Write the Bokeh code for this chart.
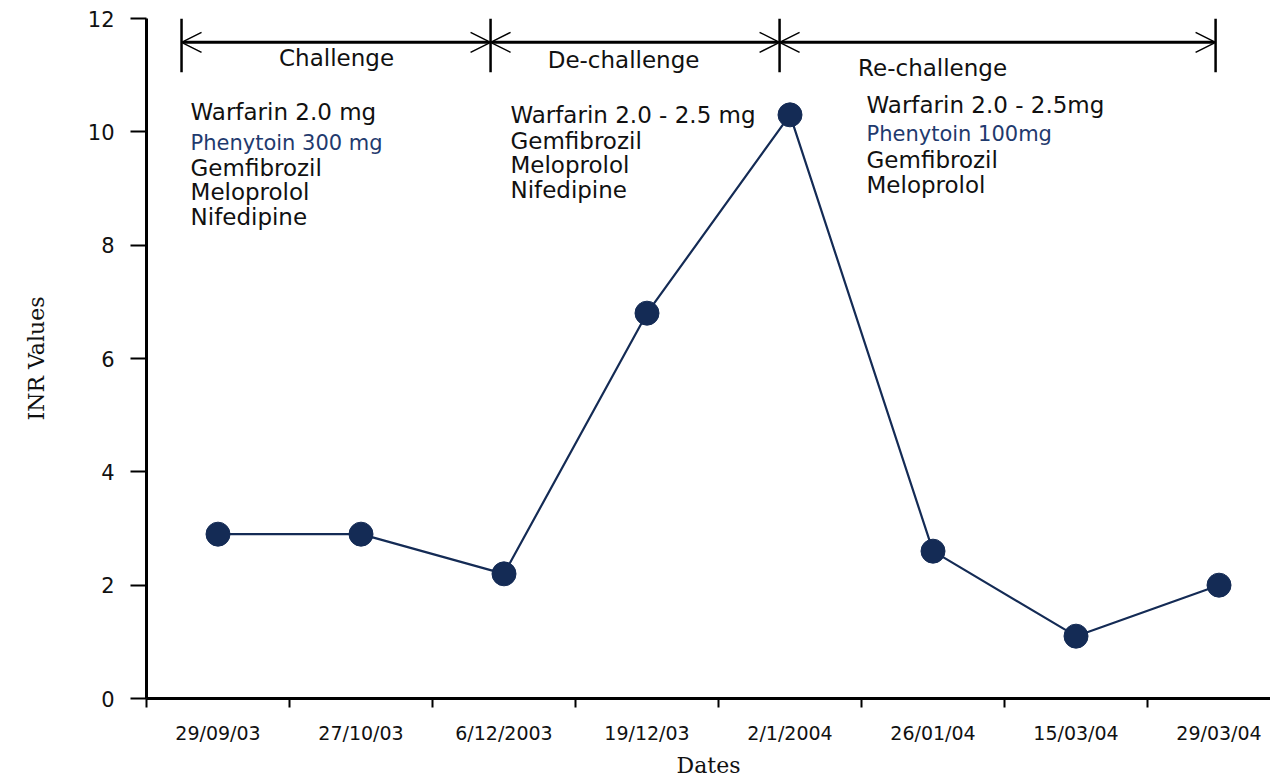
from bokeh.plotting import figure
from bokeh.models import FixedTicker, Arrow, OpenHead, Range1d, ColumnDataSource
from bokeh.core.properties import value
from bokeh.embed import file_html
from bokeh.resources import INLINE

# ---------------- data ----------------
dates = ["29/09/03", "27/10/03", "6/12/2003", "19/12/03",
         "2/1/2004", "26/01/04", "15/03/04", "29/03/04"]
inr = [2.9, 2.9, 2.2, 6.8, 10.3, 2.6, 1.1, 2.0]
y_ticks = [0, 2, 4, 6, 8, 10, 12]

phases = ["Challenge", "De-challenge", "Re-challenge"]
challenge_drugs = ["Warfarin 2.0 mg", "Phenytoin 300 mg", "Gemfibrozil", "Meloprolol", "Nifedipine"]
dechallenge_drugs = ["Warfarin 2.0 - 2.5 mg", "Gemfibrozil", "Meloprolol", "Nifedipine"]
rechallenge_drugs = ["Warfarin 2.0 - 2.5mg", "Phenytoin 100mg", "Gemfibrozil", "Meloprolol"]

# ---------------- layout / style ----------------
NAVY = "#142b55"
BLUE_TXT = "#1f3a6e"
SANS = "DejaVu Sans"
SERIF = "DejaVu Serif"

phase_bounds = [-0.255, 1.906, 3.927, 6.976]   # positions of the vertical bars (x units)
bar_top, bar_bottom, arrow_y = 12.0, 11.05, 11.58
header_pos = [(0.829, 11.31), (2.836, 11.26), (4.997, 11.12)]
blocks = [
    (challenge_drugs, -0.192, [10.35, 9.80, 9.36, 8.94, 8.50]),
    (dechallenge_drugs, 2.045, [10.29, 9.84, 9.41, 8.97]),
    (rechallenge_drugs, 4.535, [10.47, 9.96, 9.50, 9.06]),
]

x = list(range(len(dates)))

p = figure(width=1270, height=780, output_backend="svg", toolbar_location=None,
           x_range=Range1d(-0.5, 7.36), y_range=Range1d(0, 12),
           min_border_left=146, min_border_right=0, min_border_top=18, min_border_bottom=80)
p.background_fill_color = "white"
p.border_fill_color = "white"
p.outline_line_color = None
p.grid.visible = False

# x axis
xa = p.xaxis[0]
xa.ticker = FixedTicker(ticks=x, minor_ticks=[i - 0.5 for i in range(len(dates) + 1)])
xa.major_label_overrides = {i: d for i, d in zip(x, dates)}
xa.major_tick_out = 0
xa.major_tick_in = 0
xa.minor_tick_out = 9
xa.minor_tick_in = 0
xa.minor_tick_line_width = 2
xa.minor_tick_line_color = "black"
xa.axis_line_width = 3
xa.axis_line_color = "black"
xa.major_label_text_font = SANS
xa.major_label_text_font_size = "19px"
xa.major_label_text_color = "#111111"
xa.major_label_standoff = 14
xa.axis_label = "Dates"
xa.axis_label_text_font = SERIF
xa.axis_label_text_font_size = "22px"
xa.axis_label_text_font_style = "normal"
xa.axis_label_standoff = 6
xa.axis_label_text_color = "#111111"

# y axis
ya = p.yaxis[0]
ya.ticker = FixedTicker(ticks=y_ticks)
ya.major_tick_out = 16
ya.major_tick_in = 0
ya.major_tick_line_width = 2
ya.minor_tick_out = 0
ya.minor_tick_in = 0
ya.axis_line_width = 3
ya.axis_line_color = "black"
ya.major_label_text_font = SANS
ya.major_label_text_font_size = "21px"
ya.major_label_text_color = "#111111"
ya.major_label_standoff = 16
ya.axis_label = "INR Values"
ya.axis_label_text_font = SERIF
ya.axis_label_text_font_size = "22px"
ya.axis_label_text_font_style = "normal"
ya.axis_label_standoff = 36
ya.axis_label_text_color = "#111111"

# data series
src = ColumnDataSource(dict(x=x, y=inr, d=dates))
p.line("x", "y", source=src, line_width=2.2, line_color=NAVY)
p.scatter("x", "y", source=src, size=24, fill_color=NAVY, line_color=NAVY)

# phase bars and arrows
p.segment(x0=phase_bounds, y0=[bar_bottom] * len(phase_bounds),
          x1=phase_bounds, y1=[bar_top] * len(phase_bounds),
          line_width=2.5, line_color="black")
for a, b in zip(phase_bounds[:-1], phase_bounds[1:]):
    p.add_layout(Arrow(start=OpenHead(size=20, line_width=1.5, line_color="black"),
                       end=OpenHead(size=20, line_width=1.5, line_color="black"),
                       x_start=a, y_start=arrow_y, x_end=b, y_end=arrow_y,
                       line_width=3, line_color="black"))

# phase headers
p.text(x=[hp[0] for hp in header_pos], y=[hp[1] for hp in header_pos], text=phases,
       text_font=value(SANS), text_font_size="23px", text_align="center",
       text_baseline="middle", text_color="#111111")

# drug lists
for drugs, bx, ys in blocks:
    cols = [BLUE_TXT if d.startswith("Phenytoin") else "#111111" for d in drugs]
    sizes = ["21px" if d.startswith("Phenytoin") else "23px" for d in drugs]
    p.text(x=[bx] * len(drugs), y=ys, text=drugs, text_color=cols,
           text_font_size=sizes, text_font=value(SANS),
           text_align="left", text_baseline="middle")

open("out.html", "w").write(file_html(p, INLINE))
